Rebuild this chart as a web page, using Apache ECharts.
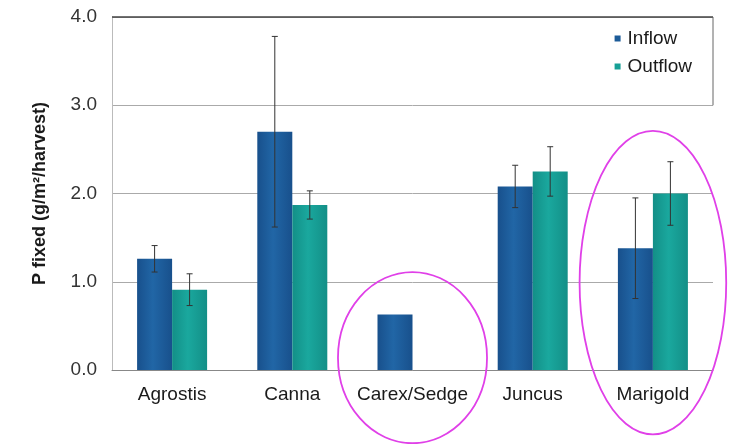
<!DOCTYPE html>
<html><head><meta charset="utf-8">
<script src="https://cdn.jsdelivr.net/npm/echarts@6/dist/echarts.min.js"></script>
<style>html,body{margin:0;padding:0;background:#fff}#c{width:735px;height:444px}</style>
</head><body><div id="c"></div>
<script>
const categories = ['Agrostis', 'Canna', 'Carex/Sedge', 'Juncus', 'Marigold'];
const inflow = [1.26, 2.70, 0.63, 2.08, 1.38];
const outflow = [0.91, 1.87, null, 2.25, 2.00];
const inflowErr = [0.15, 1.08, 0, 0.24, 0.57];
const outflowErr = [0.18, 0.16, 0, 0.28, 0.36];
const yTicks = ['0.0', '1.0', '2.0', '3.0', '4.0'];
// highlight ellipses: category, centre value, half-height (value units), half-width (fraction of category width)
const highlights = [
  { cat: 'Carex/Sedge', mid: 0.14, half: 0.97, widthFrac: 0.62 },
  { cat: 'Marigold', mid: 0.99, half: 1.72, widthFrac: 0.61 }
];

const BAR_W = 35;
const font = 'Liberation Sans, Arial, sans-serif';
const chart = echarts.init(document.getElementById('c'));

function errSeries(name, vals, errs, side) {
  return {
    type: 'custom', name: name + ' err', silent: true, z: 5,
    data: vals.map((v, i) => [i, v, errs[i]]),
    renderItem: function (params, api) {
      const v = api.value(1), e = api.value(2);
      if (v == null || isNaN(v) || !e) return null;
      const c = api.coord([api.value(0), v]);
      const x = c[0] + side * BAR_W / 2;
      const top = api.coord([api.value(0), v + e])[1];
      const bot = api.coord([api.value(0), v - e])[1];
      const cap = 3;
      const st = { stroke: '#333', lineWidth: 1 };
      return { type: 'group', children: [
        { type: 'line', shape: { x1: x, y1: top, x2: x, y2: bot }, style: st },
        { type: 'line', shape: { x1: x - cap, y1: top, x2: x + cap, y2: top }, style: st },
        { type: 'line', shape: { x1: x - cap, y1: bot, x2: x + cap, y2: bot }, style: st }
      ]};
    }
  };
}

function grad(edge, mid) {
  return new echarts.graphic.LinearGradient(0, 0, 1, 0, [
    { offset: 0, color: edge }, { offset: 0.45, color: mid }, { offset: 1, color: edge }
  ]);
}

chart.setOption({
  animation: false,
  grid: { left: 112, right: 22, top: 17, bottom: 74 },
  legend: {
    orient: 'vertical', right: 38, top: 24, itemGap: 9,
    icon: 'rect', itemWidth: 6, itemHeight: 6,
    textStyle: { fontFamily: font, fontSize: 19, color: '#1a1a1a', padding: [0, 0, 0, 2] },
    data: [{ name: 'Inflow', itemStyle: { color: '#1c5b98' } }, { name: 'Outflow', itemStyle: { color: '#17a096' } }]
  },
  xAxis: {
    type: 'category', data: categories,
    axisLine: { lineStyle: { color: '#888', width: 1 } },
    axisTick: { show: false },
    axisLabel: { fontFamily: font, fontSize: 19, color: '#1a1a1a', margin: 15, interval: 0, hideOverlap: false }
  },
  yAxis: {
    type: 'value', min: 0, max: 4, interval: 1,
    name: 'P fixed (g/m²/harvest)', nameLocation: 'middle', nameRotate: 90, nameGap: 63,
    nameTextStyle: { fontFamily: font, fontSize: 18, fontWeight: 'bold', color: '#1a1a1a' },
    axisLine: { show: true, lineStyle: { color: '#bbb' } },
    axisTick: { show: false },
    axisLabel: { fontFamily: font, fontSize: 19, color: '#333', margin: 15,
      formatter: (v) => yTicks[Math.round(v)] },
    splitLine: { lineStyle: { color: '#aaa', width: 1 } }
  },
  series: [
    { name: 'Inflow', type: 'bar', data: inflow, barWidth: BAR_W, barGap: '0%',
      itemStyle: { color: grad('#18508c', '#2166a6') } },
    { name: 'Outflow', type: 'bar', data: outflow, barWidth: BAR_W, barGap: '0%',
      itemStyle: { color: grad('#138f87', '#1aa89e') } },
    errSeries('Inflow', inflow, inflowErr, -1),
    errSeries('Outflow', outflow, outflowErr, 1),
    {
      type: 'custom', name: 'highlight', silent: true, z: 10, clip: false,
      data: highlights.map(h => [categories.indexOf(h.cat), h.mid, h.half, h.widthFrac]),
      renderItem: function (params, api) {
        const c = api.coord([api.value(0), api.value(1)]);
        const top = api.coord([api.value(0), api.value(1) + api.value(2)])[1];
        const ry = c[1] - top;
        const rx = api.size([1, 0])[0] * api.value(3);
        const cx = c[0], cy = c[1];
        const d = 'M' + (cx - rx) + ' ' + cy + ' A' + rx + ' ' + ry + ' 0 1 0 ' + (cx + rx) + ' ' + cy +
                  ' A' + rx + ' ' + ry + ' 0 1 0 ' + (cx - rx) + ' ' + cy + ' Z';
        return { type: 'path', shape: { pathData: d }, style: { fill: null, stroke: '#e040e8', lineWidth: 1.8 } };
      }
    }
  ]
});

// top frame line and right frame segment (legend box edge)
const pTop = chart.convertToPixel({ yAxisIndex: 0 }, 4);
const p3 = chart.convertToPixel({ yAxisIndex: 0 }, 3);
const w = chart.getWidth();
const rightX = w - 22;
chart.setOption({ graphic: [
  { type: 'line', shape: { x1: 112, y1: pTop, x2: rightX, y2: pTop }, style: { stroke: '#444', lineWidth: 1.5 }, z: 3 },
  { type: 'line', shape: { x1: rightX, y1: pTop, x2: rightX, y2: p3 }, style: { stroke: '#666', lineWidth: 1 }, z: 3 }
]});
</script></body></html>
